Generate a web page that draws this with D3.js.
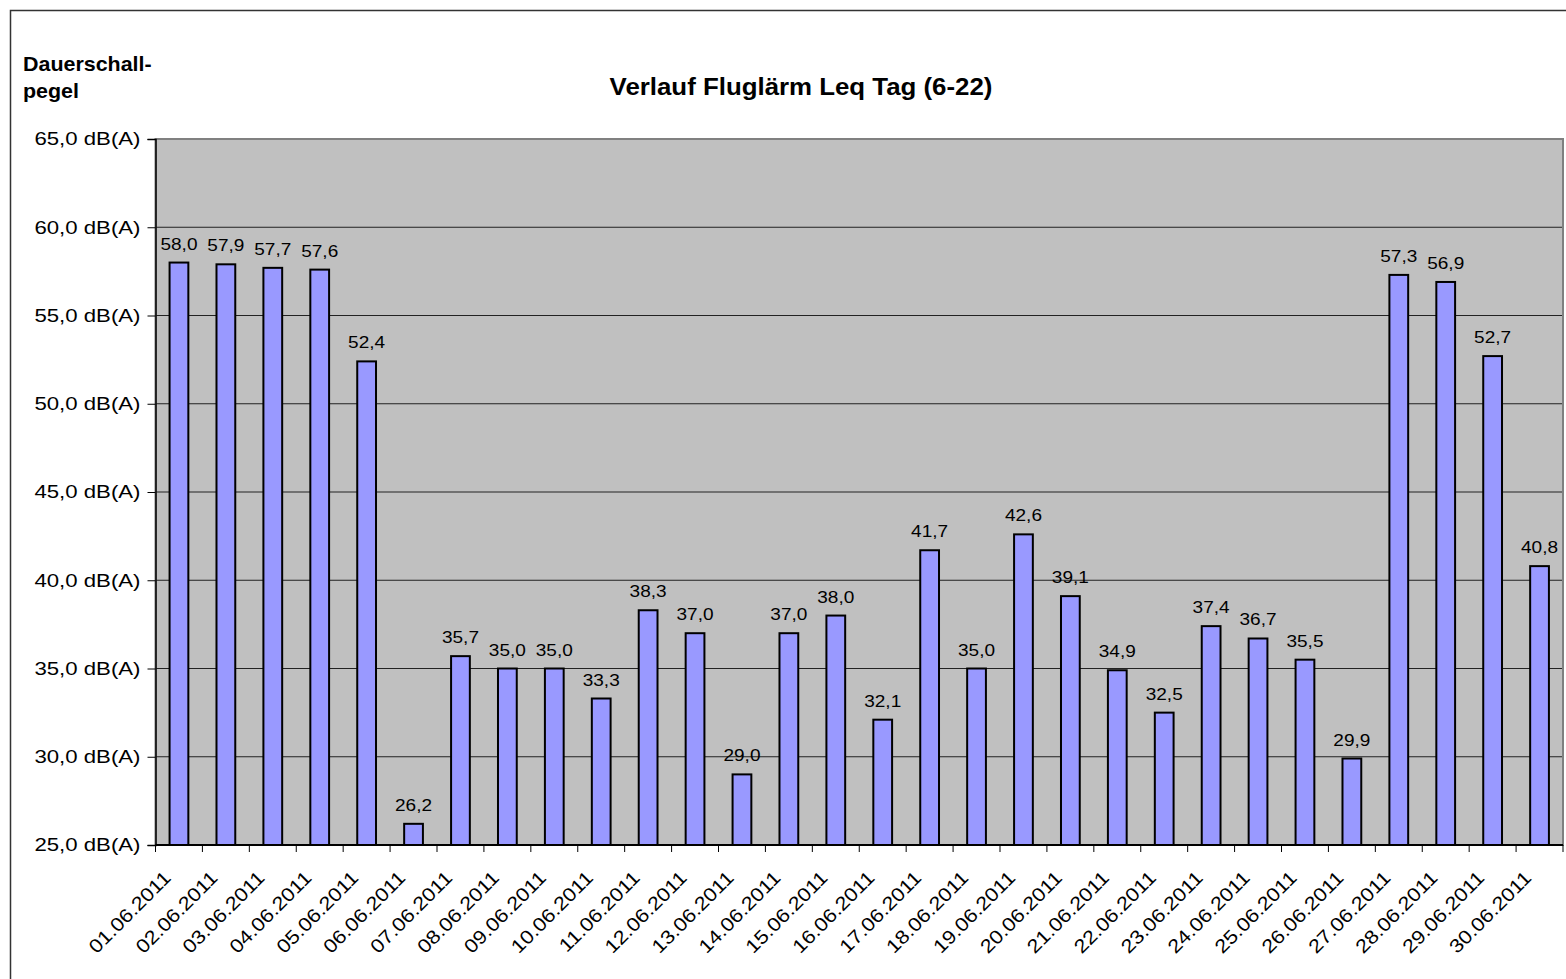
<!DOCTYPE html>
<html>
<head>
<meta charset="utf-8">
<script src="https://cdn.jsdelivr.net/npm/d3@7"></script>
<style>
  body { margin: 0; background: #fff; overflow: hidden; }
  svg { display: block; }
  svg text { font-family: "Liberation Sans", Arial, sans-serif; fill: #000; }
</style>
</head>
<body>
<svg id="chart" width="1566" height="979"></svg>
<script>
const dates = ["01.06.2011","02.06.2011","03.06.2011","04.06.2011","05.06.2011","06.06.2011","07.06.2011","08.06.2011","09.06.2011","10.06.2011",
               "11.06.2011","12.06.2011","13.06.2011","14.06.2011","15.06.2011","16.06.2011","17.06.2011","18.06.2011","19.06.2011","20.06.2011",
               "21.06.2011","22.06.2011","23.06.2011","24.06.2011","25.06.2011","26.06.2011","27.06.2011","28.06.2011","29.06.2011","30.06.2011"];
const leqValues = [58.0,57.9,57.7,57.6,52.4,26.2,35.7,35.0,35.0,33.3,38.3,37.0,29.0,37.0,38.0,32.1,41.7,35.0,42.6,39.1,34.9,32.5,37.4,36.7,35.5,29.9,57.3,56.9,52.7,40.8];
const yTicks = [25,30,35,40,45,50,55,60,65];

const svg = d3.select("#chart");
const margin = { top: 139, left: 155.5 };
const innerWidth = 1563 - margin.left;
const innerHeight = 845 - margin.top;

const fmt = v => v.toFixed(1).replace(".", ",");

// outer frame: only top and left edges are inside the picture
svg.append("path")
    .attr("d", "M10.5,979V10.5H1566")
    .attr("fill", "none").attr("stroke", "#333").attr("stroke-width", 1.5);

const g = svg.append("g").attr("transform", `translate(${margin.left},${margin.top})`);

const x = d3.scaleBand().domain(dates).range([0, innerWidth]).paddingInner(0.6).paddingOuter(0.3);
const y = d3.scaleLinear().domain([25, 65]).range([innerHeight, 0]);

g.append("rect")
    .attr("width", innerWidth).attr("height", innerHeight)
    .attr("fill", "#c0c0c0");

// gridlines
g.selectAll(".grid").data(yTicks.slice(1, -1)).join("line")
    .attr("x1", 0).attr("x2", innerWidth)
    .attr("y1", d => y(d)).attr("y2", d => y(d))
    .attr("stroke", "#222").attr("stroke-width", 1);

// plot border
g.append("rect")
    .attr("width", innerWidth).attr("height", innerHeight)
    .attr("fill", "none").attr("stroke", "#808080").attr("stroke-width", 2);

// bars
g.selectAll(".bar").data(leqValues).join("rect")
    .attr("x", (d, i) => x(dates[i]))
    .attr("y", d => y(d))
    .attr("width", x.bandwidth())
    .attr("height", d => innerHeight - y(d))
    .attr("fill", "#9999ff")
    .attr("stroke", "#000").attr("stroke-width", 2);

// value labels (text slightly widened like the original)
g.selectAll(".val").data(leqValues).join("text")
    .attr("transform", (d, i) => `translate(${x(dates[i]) + x.bandwidth() / 2},${y(d) - 13}) scale(1.12,1)`)
    .attr("text-anchor", "middle")
    .attr("font-size", "17px")
    .text(fmt);

// y axis
const yAxis = d3.axisLeft(y).tickValues(yTicks).tickSize(8).tickFormat("");
const ya = g.append("g").call(yAxis);
ya.select(".domain").attr("stroke", "#000").attr("stroke-width", 1.5);
ya.selectAll(".tick line").attr("stroke", "#000");
g.selectAll(".ylab").data(yTicks).join("text")
    .attr("transform", d => `translate(-15,${y(d)}) scale(1.2,1)`)
    .attr("dy", "0.35em")
    .attr("text-anchor", "end")
    .attr("font-size", "18.5px")
    .text(d => fmt(d) + " dB(A)");

// x axis (ticks between categories)
const tickPos = d3.range(dates.length + 1).map(i => i * innerWidth / dates.length);
const xa = g.append("g").attr("transform", `translate(0,${innerHeight})`);
xa.append("line").attr("x1", 0).attr("x2", innerWidth).attr("stroke", "#000").attr("stroke-width", 2);
xa.selectAll(".xt").data(tickPos).join("line")
    .attr("x1", d => d).attr("x2", d => d)
    .attr("y1", 0).attr("y2", 7)
    .attr("stroke", "#000");
xa.selectAll(".xl").data(dates).join("text")
    .attr("text-anchor", "end")
    .attr("font-size", "19px")
    .attr("transform", d => `translate(${x(d) + x.bandwidth() / 2 - 7},${34}) rotate(-45) scale(1.14,1)`)
    .text(d => d);

// title
svg.append("text")
    .attr("transform", "translate(801,95) scale(1.1,1)")
    .attr("text-anchor", "middle")
    .attr("font-size", "23.5px").attr("font-weight", "bold")
    .text("Verlauf Fluglärm Leq Tag (6-22)");

// y axis title
svg.append("text")
    .attr("transform", "translate(23,71) scale(1.1,1)")
    .attr("font-size", "19.5px").attr("font-weight", "bold")
    .text("Dauerschall-");
svg.append("text")
    .attr("transform", "translate(23,98) scale(1.1,1)")
    .attr("font-size", "19.5px").attr("font-weight", "bold")
    .text("pegel");
</script>
</body>
</html>
